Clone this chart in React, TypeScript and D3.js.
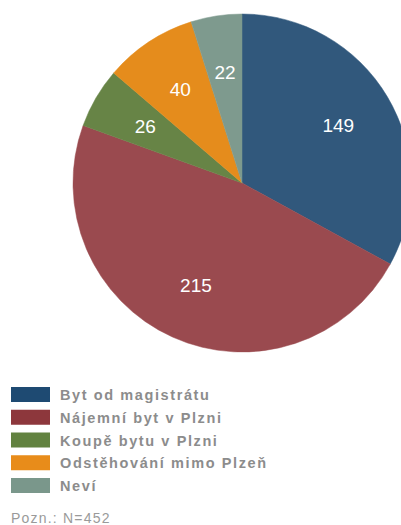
import React from "react";
import * as d3 from "d3";

const categories = ["Byt od magistrátu", "Nájemní byt v Plzni", "Koupě bytu v Plzni", "Odstěhování mimo Plzeň", "Neví"];
const values = [149, 215, 26, 40, 22];
const pieColors = ["#31587c", "#9a4a4f", "#678446", "#e58c1c", "#7e9a8e"];
const legendColors = ["#1e4a72", "#8d373c", "#628240", "#e88c1a", "#7a978b"];
const note = "Pozn.: N=452";

export default function App() {
  const W = 401, H = 525;
  const cx = 242, cy = 183, r = 169;
  const pie = d3.pie<number>().sort(null).value((d) => d);
  const arcs = pie(values);
  const arc = d3.arc<d3.PieArcDatum<number>>().innerRadius(0).outerRadius(r);
  const labelArc = d3.arc<d3.PieArcDatum<number>>().innerRadius(112).outerRadius(112);
  const legendY = d3.scaleLinear().domain([0, 4]).range([387, 478]);
  return (
    <svg width={W} height={H} style={{ position: "absolute", left: 0, top: 0, background: "#fff" }}>
      <g transform={`translate(${cx},${cy})`}>
        {arcs.map((a, i) => (
          <path key={i} d={arc(a) || ""} fill={pieColors[i]} stroke={pieColors[i]} strokeWidth={0.5} />
        ))}
        {arcs.map((a, i) => {
          const [x, y] = labelArc.centroid(a);
          return (
            <text key={i} x={x} y={y} textAnchor="middle" dominantBaseline="central" fill="#fff"
              fontFamily="Liberation Sans, Arial, sans-serif" fontSize={19}>{values[i]}</text>
          );
        })}
      </g>
      {categories.map((c, i) => (
        <g key={c} transform={`translate(0,${legendY(i)})`}>
          <rect x={11} y={0} width={39} height={15} fill={legendColors[i]} />
          <text x={60} y={13} fill="#8c8c8c" fontFamily="Liberation Sans, Arial, sans-serif" fontWeight="bold"
            fontSize={14.5} letterSpacing={1.6}>{c}</text>
        </g>
      ))}
      <text x={11} y={523} fill="#9a9a9a" fontFamily="Liberation Sans, Arial, sans-serif" fontSize={14} letterSpacing={1.2}>{note}</text>
    </svg>
  );
}
